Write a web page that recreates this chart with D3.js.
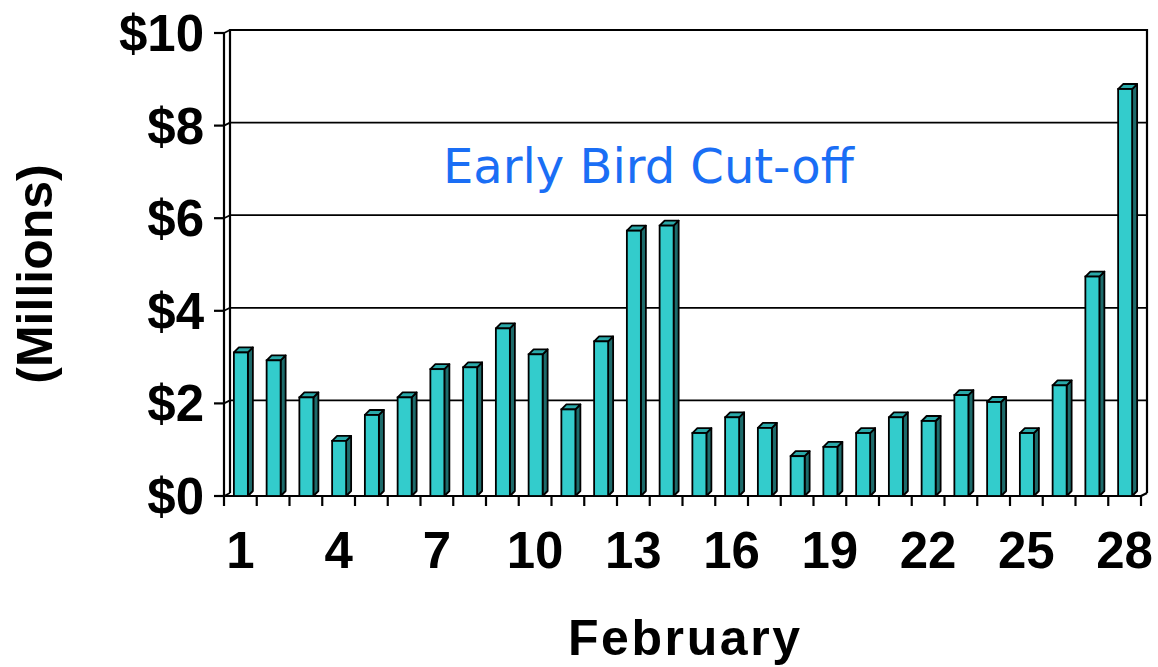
<!DOCTYPE html>
<html><head><meta charset="utf-8">
<script src="https://cdn.jsdelivr.net/npm/d3@7/dist/d3.min.js"></script>
<style>body{margin:0;background:#fff}svg{display:block}</style>
</head><body>
<script>
const days = d3.range(1, 29);
const sales = [3.10, 2.93, 2.13, 1.19, 1.75, 2.13, 2.74, 2.78, 3.62, 3.06,
  1.87, 3.34, 5.73, 5.84, 1.36, 1.70, 1.47, 0.86, 1.06, 1.36,
  1.70, 1.62, 2.18, 2.03, 1.36, 2.39, 4.74, 8.79];
const yTicks = [0, 2, 4, 6, 8, 10];
const xTickLabels = [1, 4, 7, 10, 13, 16, 19, 22, 25, 28];
const annotation = "Early Bird Cut-off";
const xTitle = "February";
const yTitle = "(Millions)";

const W = 1158, H = 667;
const svg = d3.select("body").append("svg").attr("width", W).attr("height", H);

const x = d3.scaleBand().domain(days).range([224, 1141]);
const y = d3.scaleLinear().domain([0, 10]).range([496, 33]);
const wdx = 6, wdy = -3;   // wall depth offset
const bdx = 5, bdy = -5;   // bar depth offset
const stroke = "#000";

// Back wall gridlines
svg.append("g").selectAll("line").data(yTicks.filter(v => v > 0 && v < 10)).join("line")
  .attr("x1", x.range()[0] + wdx).attr("x2", x.range()[1] + wdx)
  .attr("y1", d => y(d) + wdy).attr("y2", d => y(d) + wdy)
  .attr("stroke", stroke).attr("stroke-width", 1.8);
// Left wall grid diagonals
svg.append("g").selectAll("line").data(yTicks).join("line")
  .attr("x1", x.range()[0]).attr("x2", x.range()[0] + wdx)
  .attr("y1", d => y(d)).attr("y2", d => y(d) + wdy)
  .attr("stroke", stroke).attr("stroke-width", 1.8);

// Back wall frame
const x0 = x.range()[0], x1 = x.range()[1];
svg.append("path")
  .attr("d", `M${x0 + wdx},${y(0) + wdy} V${y(10) + wdy} H${x1 + wdx} V${y(0) + wdy}`)
  .attr("fill", "none").attr("stroke", stroke).attr("stroke-width", 2.2);
// Left wall front edge (y axis)
svg.append("line").attr("x1", x0).attr("x2", x0).attr("y1", y(10)).attr("y2", y(0))
  .attr("stroke", stroke).attr("stroke-width", 2.2);
// Floor front edge (x axis) and right diagonal
svg.append("line").attr("x1", x0 - 10).attr("x2", x1).attr("y1", y(0)).attr("y2", y(0))
  .attr("stroke", stroke).attr("stroke-width", 2.2);
svg.append("line").attr("x1", x1).attr("x2", x1 + wdx).attr("y1", y(0)).attr("y2", y(0) + wdy)
  .attr("stroke", stroke).attr("stroke-width", 2.2);

// Y ticks
svg.append("g").selectAll("line").data(yTicks).join("line")
  .attr("x1", x0 - 10).attr("x2", x0).attr("y1", d => y(d)).attr("y2", d => y(d))
  .attr("stroke", stroke).attr("stroke-width", 2.2);
// X ticks at band boundaries
svg.append("g").selectAll("line").data(d3.range(0, 29)).join("line")
  .attr("x1", i => x0 + i * x.step()).attr("x2", i => x0 + i * x.step())
  .attr("y1", y(0)).attr("y2", y(0) + 10)
  .attr("stroke", stroke).attr("stroke-width", 2.2);

// Bars
const bw = 14;
const bars = svg.append("g").selectAll("g").data(days.map((d, i) => ({d, v: sales[i]}))).join("g");
const bl = d => x(d.d) + x.bandwidth() / 2 - bw / 2 + 0.5;
bars.append("path") // side
  .attr("d", d => { const l = bl(d) + bw, t = y(d.v), b = y(0);
    return `M${l},${b} L${l},${t} L${l + bdx},${t + bdy} L${l + bdx},${b + bdy} Z`; })
  .attr("fill", "#1d6b6b").attr("stroke", stroke).attr("stroke-width", 1.8).attr("stroke-linejoin", "round");
bars.append("path") // top
  .attr("d", d => { const l = bl(d), t = y(d.v);
    return `M${l},${t} L${l + bdx},${t + bdy} L${l + bw + bdx},${t + bdy} L${l + bw},${t} Z`; })
  .attr("fill", "#2aa9a9").attr("stroke", stroke).attr("stroke-width", 1.8).attr("stroke-linejoin", "round");
bars.append("rect") // front
  .attr("x", d => bl(d)).attr("y", d => y(d.v)).attr("width", bw).attr("height", d => y(0) - y(d.v))
  .attr("fill", "#33cccc").attr("stroke", stroke).attr("stroke-width", 1.8);

const boldFont = "'Liberation Sans', Arial, sans-serif";
// Y tick labels
svg.append("g").selectAll("text").data(yTicks).join("text")
  .attr("x", 204).attr("y", d => y(d) + 18).attr("text-anchor", "end")
  .attr("font-family", boldFont).attr("font-weight", "bold").attr("font-size", 51)
  .text(d => "$" + d);
// X tick labels
svg.append("g").selectAll("text").data(xTickLabels).join("text")
  .attr("x", d => x(d) + x.bandwidth() / 2).attr("y", 568).attr("text-anchor", "middle")
  .attr("font-family", boldFont).attr("font-weight", "bold").attr("font-size", 51)
  .text(d => d);
// Axis titles
svg.append("text").attr("x", 684).attr("y", 655).attr("text-anchor", "middle")
  .attr("font-family", boldFont).attr("font-weight", "bold").attr("font-size", 50)
  .attr("textLength", 232).text(xTitle);
svg.append("text").attr("transform", "translate(52,274) rotate(-90)").attr("text-anchor", "middle")
  .attr("font-family", boldFont).attr("font-weight", "bold").attr("font-size", 50)
  .text(yTitle);
// Annotation
svg.append("text").attr("x", 443).attr("y", 183)
  .attr("font-family", "'DejaVu Sans', Verdana, sans-serif").attr("font-size", 48)
  .attr("fill", "#1a6ef5").text(annotation);
</script>
</body></html>
